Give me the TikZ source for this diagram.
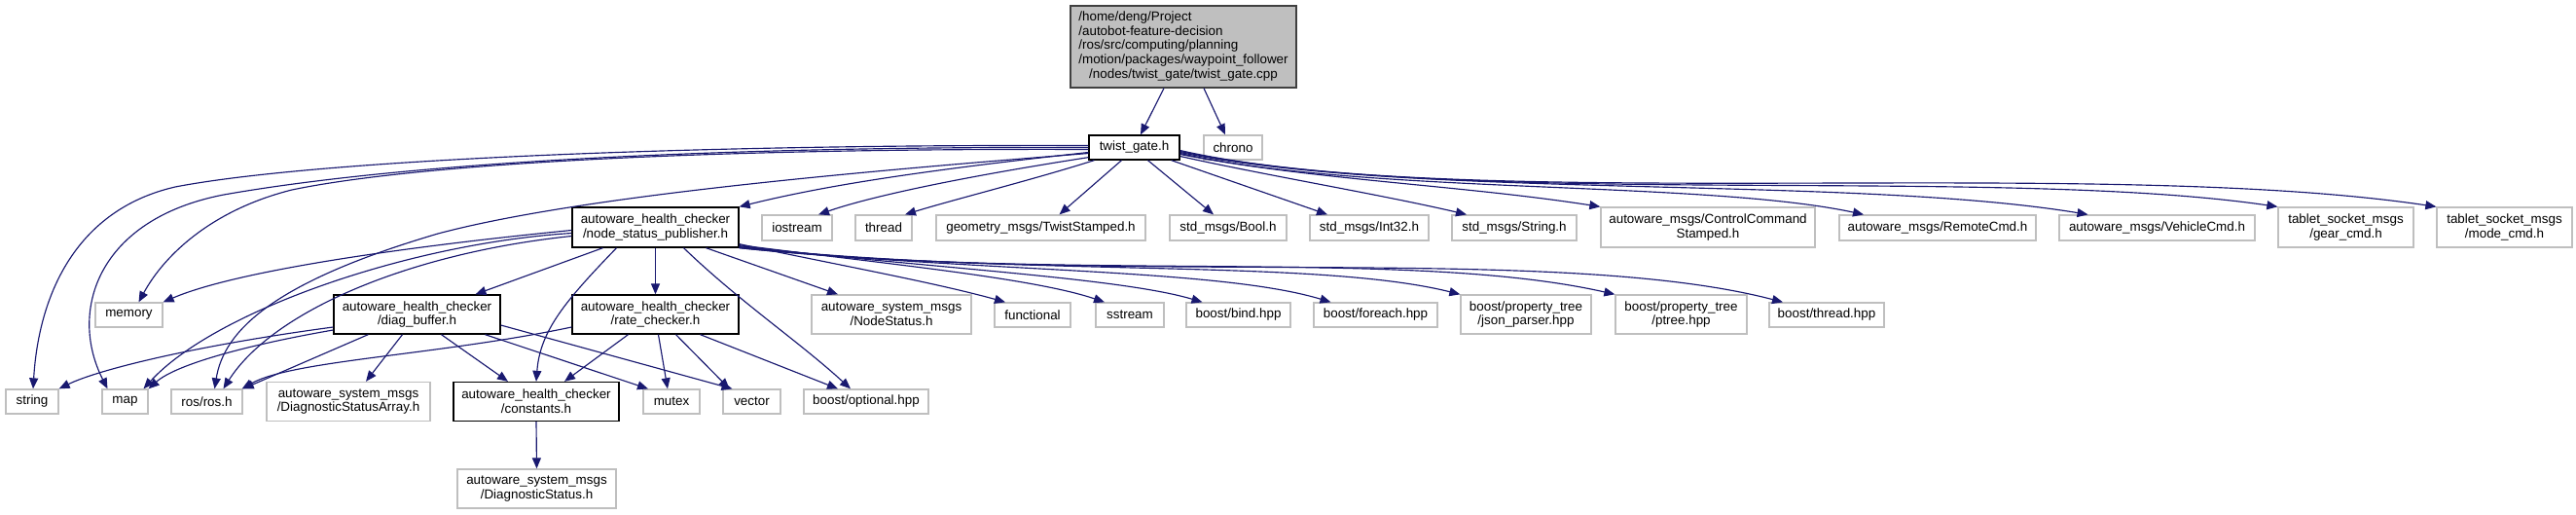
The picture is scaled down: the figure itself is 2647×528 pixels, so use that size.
\documentclass[tikz,border=0pt]{standalone}
\usepackage{fontspec}
\setmainfont{Liberation Sans}
\usetikzlibrary{arrows.meta,calc}
\definecolor{edgec}{HTML}{191970}
\definecolor{grayb}{HTML}{BFBFBF}
\begin{document}
\begin{tikzpicture}[x=1pt,y=-1pt,
  box/.style={draw=grayb,line width=1.3pt,inner sep=0pt,font=\fontsize{13.4}{14.8}\selectfont,align=center,fill=white},
  dbox/.style={box,draw=black},
  rootbox/.style={box,draw=black!75,fill=grayb},
  e/.style={draw=edgec,line width=1.15pt,-{Triangle[length=11pt,width=9pt]}}]
\useasboundingbox (0,0) rectangle (2647,528);
% rank 0
\node[rootbox,minimum width=232,minimum height=84] (root) at (1216,48)
  {\begin{tabular}{@{}l@{}}/home/deng/Project\\/autobot-feature-decision\\/ros/src/computing/planning\\/motion/packages/waypoint\_follower\\\multicolumn{1}{@{}c@{}}{/nodes/twist\_gate/twist\_gate.cpp}\end{tabular}};
% rank 1
\node[dbox,minimum width=93,minimum height=25] (twist) at (1165.5,151.5) {twist\_gate.h};
\node[box,minimum width=60,minimum height=25] (chrono) at (1267,151.5) {chrono};
% rank 2
\node[dbox,minimum width=171,minimum height=41] (nsp) at (673.5,233.5) {autoware\_health\_checker\\/node\_status\_publisher.h};
\node[box,minimum width=72,minimum height=26] (iostream) at (819,234) {iostream};
\node[box,minimum width=58,minimum height=26] (thread) at (908,234) {thread};
\node[box,minimum width=215,minimum height=26] (geom) at (1069.5,234) {geometry\_msgs/TwistStamped.h};
\node[box,minimum width=120,minimum height=26] (bool) at (1262,234) {std\_msgs/Bool.h};
\node[box,minimum width=122,minimum height=26] (int32) at (1407,234) {std\_msgs/Int32.h};
\node[box,minimum width=128,minimum height=26] (strmsg) at (1556,234) {std\_msgs/String.h};
\node[box,minimum width=220,minimum height=41] (ccs) at (1755,233.5) {autoware\_msgs/ControlCommand\\Stamped.h};
\node[box,minimum width=202,minimum height=26] (remote) at (1991,234) {autoware\_msgs/RemoteCmd.h};
\node[box,minimum width=201,minimum height=26] (vehicle) at (2216.5,234) {autoware\_msgs/VehicleCmd.h};
\node[box,minimum width=139,minimum height=41] (gear) at (2410.5,233.5) {tablet\_socket\_msgs\\/gear\_cmd.h};
\node[box,minimum width=139,minimum height=41] (mode) at (2573.5,233.5) {tablet\_socket\_msgs\\/mode\_cmd.h};
% rank 3
\node[box,minimum width=69,minimum height=25] (memory) at (132.5,323.5) {memory};
\node[dbox,minimum width=171,minimum height=40] (diag) at (428.5,323) {autoware\_health\_checker\\/diag\_buffer.h};
\node[dbox,minimum width=171,minimum height=40] (rate) at (673.5,323) {autoware\_health\_checker\\/rate\_checker.h};
\node[box,minimum width=164,minimum height=40] (nodestatus) at (916,323) {autoware\_system\_msgs\\/NodeStatus.h};
\node[box,minimum width=78,minimum height=25] (functional) at (1061,323.5) {functional};
\node[box,minimum width=70,minimum height=25] (sstream) at (1161,323.5) {sstream};
\node[box,minimum width=107,minimum height=25] (bind) at (1272.5,323.5) {boost/bind.hpp};
\node[box,minimum width=127,minimum height=25] (foreach) at (1413.5,323.5) {boost/foreach.hpp};
\node[box,minimum width=134,minimum height=40] (json) at (1568,323) {boost/property\_tree\\/json\_parser.hpp};
\node[box,minimum width=135,minimum height=40] (ptree) at (1727.5,323) {boost/property\_tree\\/ptree.hpp};
\node[box,minimum width=118,minimum height=25] (threadhpp) at (1877,323.5) {boost/thread.hpp};
% rank 4
\node[box,minimum width=54,minimum height=25] (string) at (33,412.5) {string};
\node[box,minimum width=47,minimum height=25] (map) at (128.5,412.5) {map};
\node[box,minimum width=73,minimum height=25] (ros) at (212.5,412.5) {ros/ros.h};
\node[box,minimum width=168,minimum height=40] (dsa) at (358,412.5) {autoware\_system\_msgs\\/DiagnosticStatusArray.h};
\node[dbox,minimum width=170,minimum height=40] (constants) at (551,412.5) {autoware\_health\_checker\\/constants.h};
\node[box,minimum width=58,minimum height=25] (mutex) at (690,412.5) {mutex};
\node[box,minimum width=59,minimum height=25] (vector) at (772.5,412.5) {vector};
\node[box,minimum width=128,minimum height=25] (optional) at (890,412.5) {boost/optional.hpp};
% rank 5
\node[box,minimum width=163,minimum height=40] (ds) at (551.5,502) {autoware\_system\_msgs\\/DiagnosticStatus.h};

% ---- edges
\draw[e] ($(root.south)+(-20,0)$) -- ($(twist.north)+(6.5,0)$);
\draw[e] ($(root.south)+(21,0)$) -- ($(chrono.north)+(-8,0)$);
% twist left
\draw[e] ($(twist.west)+(0,-2)$) .. controls (700,148) and (320,165) .. (180,192) .. controls (80,215) and (40,300) .. ($(string.north)+(1,0)$);
\draw[e] ($(twist.west)+(0,0)$) .. controls (700,150) and (400,170) .. (230,200) .. controls (100,225) and (70,320) .. ($(map.north)+(-18,0)$);
\draw[e] ($(twist.west)+(0,2)$) .. controls (700,152) and (420,170) .. (300,195) .. controls (220,215) and (170,260) .. ($(memory.north)+(10,0)$);
\draw[e] ($(twist.west)+(0,6)$) .. controls (900,175) and (600,200) .. (450,240) .. controls (280,290) and (230,340) .. ($(ros.north)+(8,0)$);
\draw[e] ($(twist.west)+(0,5)$) .. controls (950,175) and (850,190) .. (nsp.north east);
\draw[e] ($(twist.south west)+(0,-3)$) .. controls (1000,180) and (900,200) .. ($(iostream.north)+(22,0)$);
\draw[e] ($(twist.south west)+(6,0)$) .. controls (1060,185) and (980,205) .. ($(thread.north)+(22,0)$);
\draw[e] ($(twist.south)+(-13,0)$) -- ($(geom.north)+(19,0)$);
\draw[e] ($(twist.south)+(14,0)$) -- ($(bool.north)+(-15,0)$);
\draw[e] ($(twist.south east)+(-9,0)$) -- ($(int32.north)+(-43,0)$);
% twist right
\draw[e] ($(twist.east)+(0,9)$) .. controls (1300,180) and (1420,200) .. ($(strmsg.north)+(-49,0)$);
\draw[e] ($(twist.east)+(0,7)$) .. controls (1350,185) and (1500,190) .. (ccs.north west);
\draw[e] ($(twist.east)+(0,6)$) .. controls (1400,200) and (1750,185) .. ($(remote.north)+(-76,0)$);
\draw[e] ($(twist.east)+(0,5)$) .. controls (1450,205) and (1900,180) .. ($(vehicle.north)+(-71,0)$);
\draw[e] ($(twist.east)+(0,4)$) .. controls (1500,215) and (2050,170) .. (gear.north west);
\draw[e] ($(twist.east)+(0,3)$) .. controls (1500,220) and (2150,160) .. (mode.north west);
% nsp
\draw[e] ($(nsp.west)+(0,3)$) .. controls (450,250) and (250,275) .. (memory.north east);
\draw[e] ($(nsp.west)+(0,6)$) .. controls (420,250) and (220,320) .. ($(map.north)+(19,0)$);
\draw[e] ($(nsp.west)+(0,9)$) .. controls (420,260) and (280,320) .. ($(ros.north)+(17,0)$);
\draw[e] ($(nsp.south)+(-54,0)$) -- ($(diag.north)+(60,0)$);
\draw[e] ($(nsp.south)+(-40,0)$) .. controls (580,310) and (555,340) .. (constants.north);
\draw[e] (nsp.south) -- (rate.north);
\draw[e] ($(nsp.south)+(29,0)$) .. controls (760,310) and (820,350) .. ($(optional.north)+(-16,0)$);
\draw[e] ($(nsp.south)+(52,0)$) -- ($(nodestatus.north)+(-55,0)$);
\draw[e] ($(nsp.south east)+(0,-4)$) .. controls (850,270) and (960,290) .. ($(functional.north)+(-28,0)$);
\draw[e] ($(nsp.south east)+(0,-3)$) .. controls (900,270) and (1060,285) .. ($(sstream.north)+(-26,0)$);
\draw[e] ($(nsp.south east)+(0,-2)$) .. controls (950,275) and (1150,285) .. ($(bind.north)+(-37,0)$);
\draw[e] ($(nsp.south east)+(0,-1)$) .. controls (1000,280) and (1250,275) .. ($(foreach.north)+(-46,0)$);
\draw[e] ($(nsp.south east)+(0,-1)$) .. controls (1050,285) and (1350,265) .. (json.north west);
\draw[e] (nsp.south east) .. controls (1100,290) and (1450,255) .. (ptree.north west);
\draw[e] (nsp.south east) .. controls (1150,295) and (1600,250) .. ($(threadhpp.north)+(-45,0)$);
% diag
\draw[e] ($(diag.west)+(0,13)$) .. controls (200,355) and (100,380) .. (string.north east);
\draw[e] ($(diag.west)+(0,16)$) .. controls (250,355) and (180,375) .. (map.north east);
\draw[e] ($(diag.south west)+(36,0)$) -- (ros.north east);
\draw[e] ($(diag.south)+(-15,0)$) -- ($(dsa.north)+(18,0)$);
\draw[e] ($(diag.south)+(25,0)$) -- ($(constants.north)+(-29,0)$);
\draw[e] ($(diag.south)+(70,0)$) -- ($(mutex.north)+(-24,0)$);
\draw[e] ($(diag.east)+(0,11)$) -- ($(vector.north)+(-20,0)$);
% rate
\draw[e] ($(rate.west)+(0,13)$) .. controls (450,365) and (300,370) .. ($(ros.north east)+(-1,0)$);
\draw[e] ($(rate.south)+(-28,0)$) -- ($(constants.north)+(29,0)$);
\draw[e] ($(rate.south)+(3,0)$) -- ($(mutex.north)+(-4,0)$);
\draw[e] ($(rate.south)+(21,0)$) -- ($(vector.north)+(-23,0)$);
\draw[e] ($(rate.south)+(46,0)$) -- ($(optional.north)+(-29,0)$);
% constants
\draw[e] (constants.south) -- (ds.north);
\end{tikzpicture}
\end{document}
